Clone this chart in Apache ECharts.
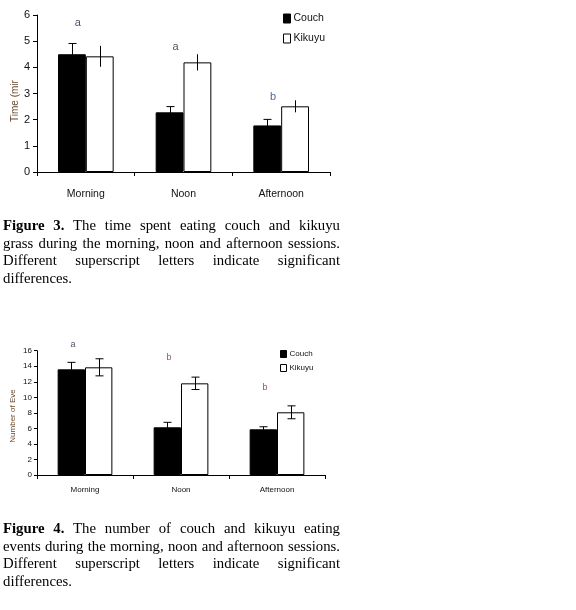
<!DOCTYPE html>
<html>
<head>
<meta charset="utf-8">
<script src="https://cdn.jsdelivr.net/npm/echarts@6/dist/echarts.min.js"></script>
<style>
  html, body { margin: 0; padding: 0; background: #fff; }
  #chart { position: absolute; left: 0; top: 0; width: 576px; height: 610px; }
  .cap { position: absolute; left: 3px; width: 337px; font-family: "Liberation Serif", "Times New Roman", serif;
         font-size: 14.75px; line-height: 17.6px; color: #000; }
  .cap div { white-space: nowrap; text-align: justify; text-align-last: justify; }
  .cap div.last { text-align: left; text-align-last: left; }
  .cap b { font-weight: bold; }
</style>
</head>
<body>
<div id="chart"></div>
<div class="cap" style="top:217px;">
  <div><b>Figure 3.</b> The time spent eating couch and kikuyu</div>
  <div>grass during the morning, noon and afternoon sessions.</div>
  <div>Different superscript letters indicate significant</div>
  <div class="last">differences.</div>
</div>
<div class="cap" style="top:520px;">
  <div><b>Figure 4.</b> The number of couch and kikuyu eating</div>
  <div>events during the morning, noon and afternoon sessions.</div>
  <div>Different superscript letters indicate significant</div>
  <div class="last">differences.</div>
</div>
<script>
// ---- data ----
const categories = ['Morning', 'Noon', 'Afternoon'];
const categoryLabels = ['Morning', 'Noon', 'Afternoon'];
const seriesNames = ['Couch', 'Kikuyu'];

// Figure 3: time spent eating (min)
const timeCouch = [4.5, 2.28, 1.78];
const timeCouchErr = [0.41, 0.22, 0.23];
const timeKikuyu = [4.42, 4.19, 2.51];
const timeKikuyuErr = [0.40, 0.31, 0.23];
const timeLetters = ['a', 'a', 'b'];
const timeLetterY = [5.69, 4.77, 2.86];
const timeTicks = [0, 1, 2, 3, 4, 5, 6];

// Figure 4: number of eating events
const evCouch = [13.6, 6.14, 5.88];
const evCouchErr = [0.9, 0.64, 0.33];
const evKikuyu = [13.86, 11.8, 8.07];
const evKikuyuErr = [1.1, 0.8, 0.83];
const evLetters = ['a', 'b', 'b'];
const evLetterY = [16.86, 15.06, 11.3];
const evTicks = [0, 2, 4, 6, 8, 10, 12, 14, 16];

// ---- chart ----
const GAP = 0.43;
const sans = '"Liberation Sans", Arial, sans-serif';

function errRender(side, capTop, capBottom) {
  return function (params, api) {
    const cat = api.value(0), v = api.value(1), e = api.value(2);
    const band = api.size([1, 0])[0];
    const bw = band * (1 - GAP) / 2;
    const cx = Math.round(api.coord([cat, v])[0] + side * bw / 2) + 0.5;
    const yT = api.coord([cat, v + e])[1];
    const yB = api.coord([cat, v - e])[1];
    const half = 4;
    const st = { stroke: '#000', lineWidth: 1 };
    const ch = [{ type: 'line', shape: { x1: cx, y1: yT, x2: cx, y2: yB }, style: st }];
    if (capTop) ch.push({ type: 'line', shape: { x1: cx - half, y1: yT, x2: cx + half, y2: yT }, style: st });
    if (capBottom) ch.push({ type: 'line', shape: { x1: cx - half, y1: yB, x2: cx + half, y2: yB }, style: st });
    return { type: 'group', children: ch };
  };
}

function errData(vals, errs) { return vals.map((v, i) => [i, v, errs[i]]); }
function letterData(ys, letters) { return ys.map((y, i) => ({ value: [i, y], name: letters[i] })); }

const chart = echarts.init(document.getElementById('chart'), null, { renderer: 'canvas' });

function xAxisCfg(gridIndex, size, margin) {
  return {
    type: 'category', gridIndex, data: categories,
    axisLine: { lineStyle: { color: '#000', width: 1 } },
    axisTick: { show: true, length: 4, lineStyle: { color: '#000' } },
    axisLabel: { color: '#111', fontFamily: sans, fontSize: size, margin,
                 formatter: (v, i) => categoryLabels[i] }
  };
}
function yAxisCfg(gridIndex, max, interval, ticks, size, margin, tickLen) {
  return {
    type: 'value', gridIndex, min: ticks[0], max, interval,
    splitLine: { show: false },
    axisLine: { show: true, lineStyle: { color: '#000', width: 1 } },
    axisTick: { show: true, length: tickLen, lineStyle: { color: '#000' } },
    axisLabel: { color: '#111', fontFamily: sans, fontSize: size, margin }
  };
}

const couchStyle = { color: '#000', borderColor: '#000', borderWidth: 1 };
const kikStyle = { color: '#fff', borderColor: '#000', borderWidth: 1 };

function barSeries(name, data, idx, style) {
  return { name, type: 'bar', xAxisIndex: idx, yAxisIndex: idx, data,
           barGap: '0%', barCategoryGap: (GAP * 100) + '%', itemStyle: style, z: 2, silent: true };
}
function errSeries(vals, errs, idx, side, capTop, capBottom) {
  return { type: 'custom', xAxisIndex: idx, yAxisIndex: idx, data: errData(vals, errs),
           encode: { x: 0, y: 1 }, renderItem: errRender(side, capTop, capBottom), z: 5, silent: true, clip: false };
}
function letterSeries(ys, letters, idx, size, offX) {
  return { type: 'scatter', xAxisIndex: idx, yAxisIndex: idx, data: letterData(ys, letters),
           symbolSize: 1, itemStyle: { color: 'rgba(0,0,0,0)' }, clip: false, silent: true, z: 6,
           label: { show: true, position: 'inside', offset: [offX, 0], fontFamily: sans, fontSize: size,
                    formatter: p => p.name, color: '#14203a' } };
}

const option = {
  animation: false,
  backgroundColor: '#fff',
  grid: [
    { left: 37, top: 15, width: 293, height: 157 },
    { left: 37, top: 350.7, width: 288, height: 124.3 }
  ],
  xAxis: [xAxisCfg(0, 10.5, 17), xAxisCfg(1, 8, 11)],
  yAxis: [yAxisCfg(0, 6, 1, timeTicks, 11, 7, 4), yAxisCfg(1, 16, 2, evTicks, 8, 5, 3)],
  legend: [
    { data: seriesNames, orient: 'vertical', left: 283, top: 13, padding: 0, itemWidth: 7, itemHeight: 9, itemGap: 9,
      icon: 'rect', itemStyle: { borderWidth: 1 },
      textStyle: { fontFamily: sans, fontSize: 10.5, color: '#111', padding: [0, 0, 0, -2] }, selectedMode: false },
    { data: seriesNames, orient: 'vertical', left: 280, top: 350, padding: 0, itemWidth: 6, itemHeight: 7, itemGap: 6,
      icon: 'rect', itemStyle: { borderWidth: 1 },
      textStyle: { fontFamily: sans, fontSize: 8, color: '#111', padding: [0, 0, 0, -2] }, selectedMode: false }
  ],
  graphic: [
    { type: 'text', x: 15, y: 101, rotation: Math.PI / 2,
      style: { text: 'Time (mir', fontFamily: sans, fontSize: 10, fill: '#6b4a2e', align: 'center', verticalAlign: 'middle' } },
    { type: 'text', x: 13, y: 416, rotation: Math.PI / 2,
      style: { text: 'Number of Eve', fontFamily: sans, fontSize: 8, fill: '#6b4a2e', align: 'center', verticalAlign: 'middle' } }
  ],
  series: [
    barSeries('Couch', timeCouch, 0, couchStyle),
    barSeries('Kikuyu', timeKikuyu, 0, kikStyle),
    errSeries(timeCouch, timeCouchErr, 0, -1, true, false),
    errSeries(timeKikuyu, timeKikuyuErr, 0, 1, false, false),
    letterSeries(timeLetterY, timeLetters, 0, 11, -8),
    barSeries('Couch', evCouch, 1, couchStyle),
    barSeries('Kikuyu', evKikuyu, 1, kikStyle),
    errSeries(evCouch, evCouchErr, 1, -1, true, true),
    errSeries(evKikuyu, evKikuyuErr, 1, 1, true, true),
    letterSeries(evLetterY, evLetters, 1, 9, -12)
  ]
};
// letter colours
option.series[4].data[2].label = { color: '#1f3f86' };
option.series[9].data[1].label = { color: '#6e1a3e' };
option.series[9].data[2].label = { color: '#6e1a3e' };
chart.setOption(option);
</script>
</body>
</html>
